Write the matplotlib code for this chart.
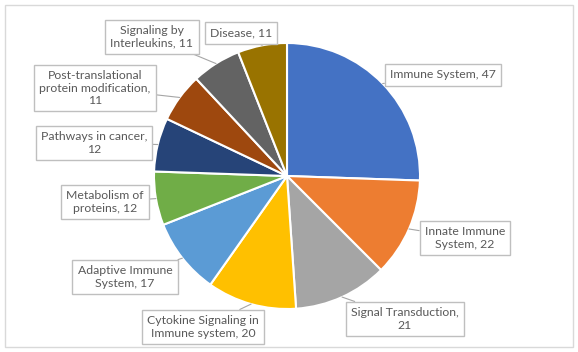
import numpy as np
import matplotlib
matplotlib.use("Agg")
import matplotlib.pyplot as plt
from matplotlib.patches import Rectangle

labels = ["Immune System, 47", "Innate Immune\nSystem, 22", "Signal Transduction,\n21",
          "Cytokine Signaling in\nImmune system, 20", "Adaptive Immune\nSystem, 17",
          "Metabolism of\nproteins, 12", "Pathways in cancer,\n12",
          "Post-translational\nprotein modification,\n11", "Signaling by\nInterleukins, 11",
          "Disease, 11"]
values = [47, 22, 21, 20, 17, 12, 12, 11, 11, 11]
colors = ["#4472C4", "#ED7D31", "#A5A5A5", "#FFC000", "#5B9BD5", "#70AD47",
          "#264478", "#9E480E", "#636363", "#997300"]
# label box centres (pixel coordinates, y from top)
label_pos = [(443, 75), (465, 238), (405, 319), (203, 327), (125, 277),
             (105, 202), (94, 143), (95, 88), (152, 37), (241, 33)]

W, H = 578, 352
fig = plt.figure(figsize=(W / 100, H / 100), dpi=100)
ax = fig.add_axes([0, 0, 1, 1])

ax.add_patch(Rectangle((5, 5), W - 10, H - 10, fill=False, edgecolor="#D9D9D9", lw=1))

cx, cy, r = 287, H - 176, 133
wedges, _ = ax.pie(values, colors=colors, startangle=90, counterclock=False,
                   center=(cx, cy), radius=r, frame=True,
                   wedgeprops=dict(edgecolor="white", linewidth=1.5))
ax.set_xlim(0, W)
ax.set_ylim(0, H)
ax.set_aspect("equal")
ax.axis("off")

for w, lab, (lx, ly) in zip(wedges, labels, label_pos):
    ang = np.deg2rad((w.theta1 + w.theta2) / 2)
    px, py = cx + r * np.cos(ang), cy + r * np.sin(ang)
    ax.annotate(lab, xy=(px, py), xytext=(lx, H - ly), ha="center", va="center",
                fontsize=8.8, color="#595959", family=["Lato", "DejaVu Sans"],
                linespacing=1.2,
                bbox=dict(boxstyle="square,pad=0.42", fc="white", ec="#BFBFBF", lw=1),
                arrowprops=dict(arrowstyle="-", color="#A6A6A6", lw=0.8,
                                shrinkA=0, shrinkB=0))

fig.savefig("out.png", dpi=100)
